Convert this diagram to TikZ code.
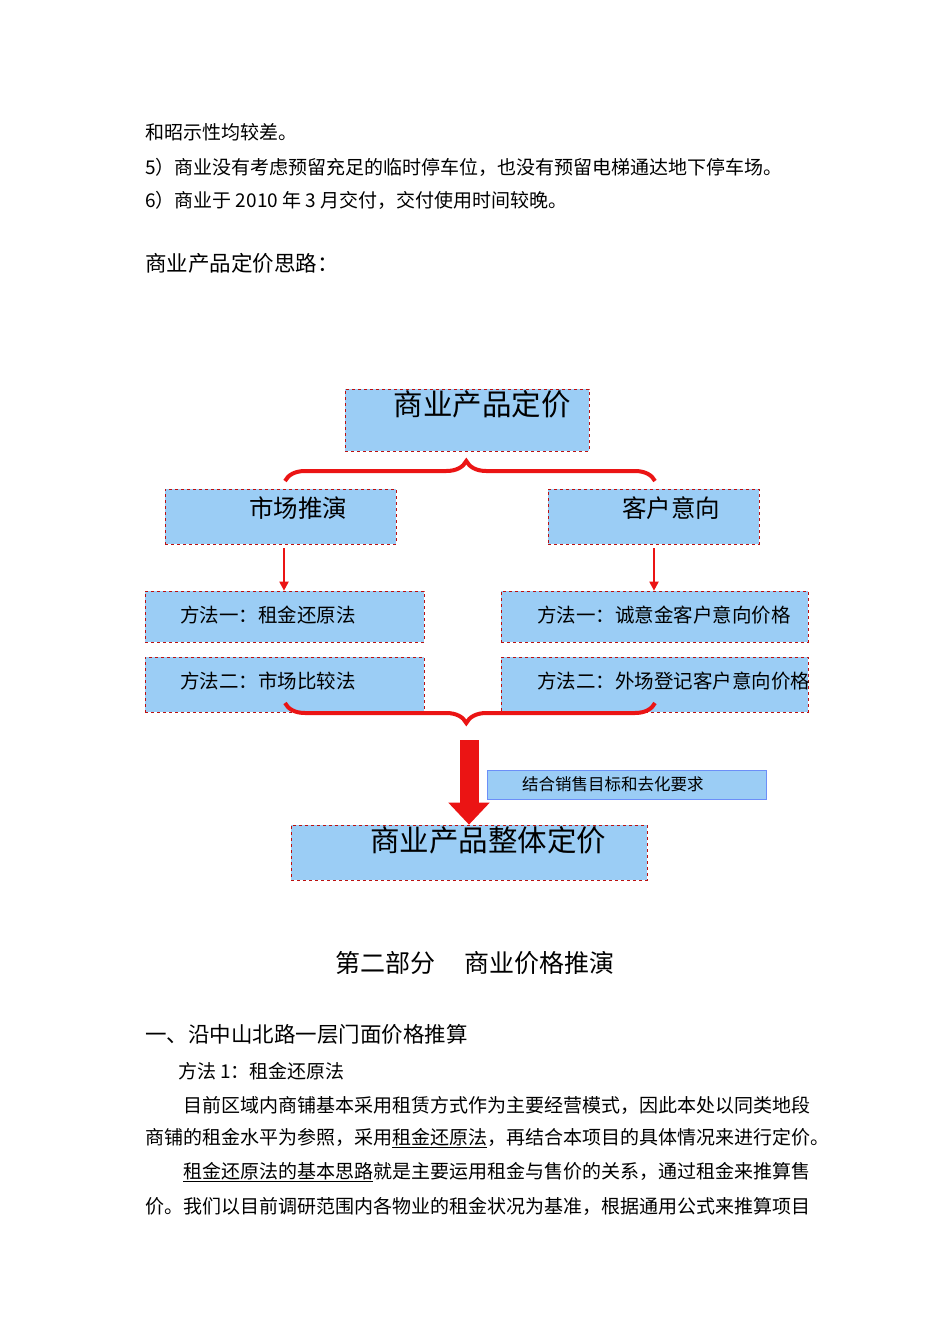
\documentclass[tikz,border=0pt]{standalone}
\usepackage{fontspec}
\setmainfont{Noto Sans CJK SC}
\usetikzlibrary{arrows.meta,decorations.pathreplacing}
\definecolor{bx}{RGB}{155,205,245}
\definecolor{rd}{RGB}{235,20,20}
\tikzset{
 pbox/.style={draw=rd!80!black,dashed,fill=bx,line width=0.7pt,inner sep=0pt},
 body/.style={anchor=west,inner sep=0pt,font=\fontsize{19}{19}\selectfont},
 mtext/.style={anchor=west,inner sep=0pt,font=\fontsize{19.5}{19.5}\selectfont},
 sarrow/.style={draw=rd,line width=2pt,-{Triangle[length=9pt,width=9pt]}},
}
\begin{document}
\begin{tikzpicture}[x=1pt,y=-1pt]
\useasboundingbox[fill=white] (0,0) rectangle (950,1344);
\node[body] (t1) at (145,132) {和昭示性均较差。};
\node[body] (t2) at (145,167) {5）商业没有考虑预留充足的临时停车位，也没有预留电梯通达地下停车场。};
\node[body] (t3) at (145,200) {6）商业于 2010 年 3 月交付，交付使用时间较晚。};
\node[body,font=\fontsize{21.5}{21.5}\selectfont] (t4) at (145,263) {商业产品定价思路：};

\node[pbox,minimum width=244,minimum height=62] (top) at (467,420) {};
\node[font=\fontsize{29.5}{29.5}\selectfont] (topt) at (482,404) {商业产品定价};
\node[pbox,minimum width=231,minimum height=55] (ml) at (280.5,516.5) {};
\node[font=\fontsize{24.5}{24.5}\selectfont] at (298,508) {市场推演};
\node[pbox,minimum width=211,minimum height=55] (mr) at (653.5,516.5) {};
\node[font=\fontsize{24.5}{24.5}\selectfont] at (671,508) {客户意向};
\node[pbox,minimum width=279,minimum height=51] (l1) at (284.5,616.5) {};
\node[mtext] at (180,615) {方法一：租金还原法};
\node[pbox,minimum width=279,minimum height=55] (l2) at (284.5,684.5) {};
\node[mtext] at (180,681) {方法二：市场比较法};
\node[pbox,minimum width=307,minimum height=51] (r1) at (654.5,616.5) {};
\node[mtext] at (537,615) {方法一：诚意金客户意向价格};
\node[pbox,minimum width=307,minimum height=55] (r2) at (654.5,684.5) {};
\node[mtext] at (537,681) {方法二：外场登记客户意向价格};
\node[draw=bx!70!blue,fill=bx,line width=0.5pt,minimum width=279,minimum height=29,inner sep=0] (goal) at (626.5,784.5) {};
\node[anchor=west,inner sep=0,font=\fontsize{16.5}{16.5}\selectfont] at (522,784) {结合销售目标和去化要求};
\node[pbox,minimum width=356,minimum height=55] (bot) at (469,852.5) {};
\node[font=\fontsize{29.5}{29.5}\selectfont] at (488,840) {商业产品整体定价};

% braces
\draw[rd,line width=4pt,decorate,decoration={brace,amplitude=20pt,aspect=0.49}] (285,481) -- (655,481);
\draw[rd,line width=4pt,decorate,decoration={brace,amplitude=20pt,mirror,aspect=0.49}] (285,703) -- (655,703);
\coordinate (a1) at (284,548);
\draw[sarrow] (a1) -- (l1.north -| a1);
\coordinate (a2) at (654,548);
\draw[sarrow] (a2) -- (r1.north -| a2);
\coordinate (bigs) at (469,740);
\draw[rd,line width=19pt,-{Triangle[length=22pt,width=40pt]}] (bigs) -- (bot.north);

\node[font=\fontsize{25}{25}\selectfont] (h1) at (475,963) {第二部分\hspace{1.2em}商业价格推演};
\node[body,font=\fontsize{21.5}{21.5}\selectfont] (h2) at (145,1034) {一、沿中山北路一层门面价格推算};
\node[body] (p0) at (178,1071) {方法 1：租金还原法};
\node[body] (p1) at (183,1105) {目前区域内商铺基本采用租赁方式作为主要经营模式，因此本处以同类地段};
\node[body] (p2) at (145,1138) {商铺的租金水平为参照，采用\underline{租金还原法}，再结合本项目的具体情况来进行定价。};
\node[body] (p3) at (183,1172) {\underline{租金还原法的基本思路}就是主要运用租金与售价的关系，通过租金来推算售};
\node[body] (p4) at (145,1206) {价。我们以目前调研范围内各物业的租金状况为基准，根据通用公式来推算项目};
\end{tikzpicture}
\end{document}
